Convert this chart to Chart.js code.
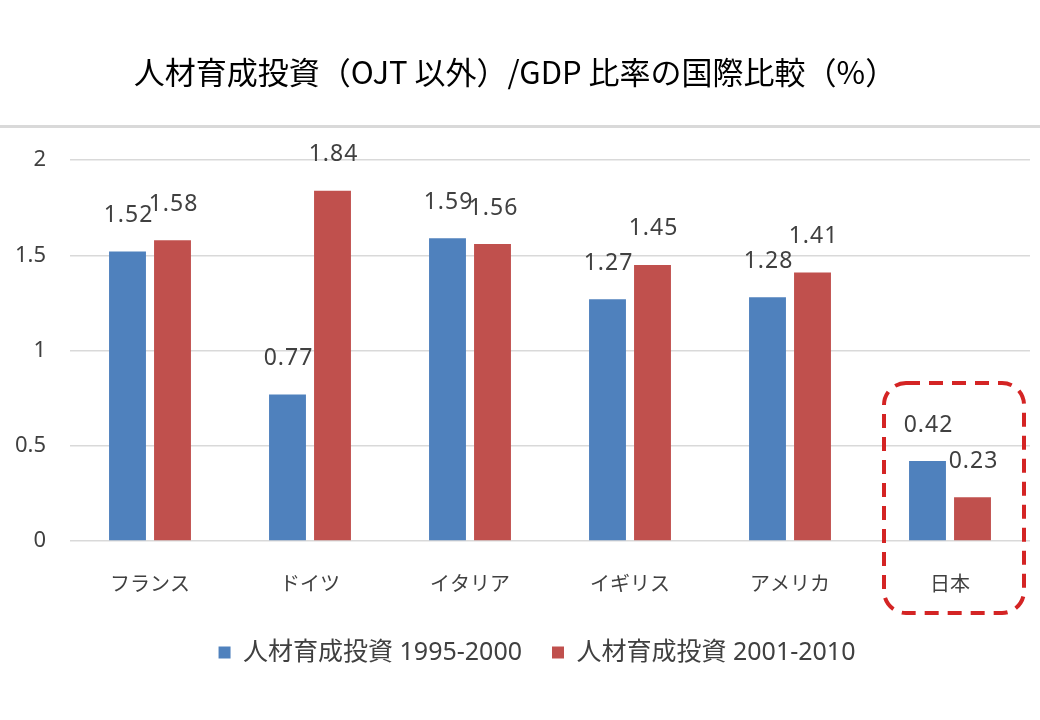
<!DOCTYPE html>
<html><head><meta charset="utf-8">
<script src="https://cdn.jsdelivr.net/npm/chart.js@4.4.1/dist/chart.umd.min.js"></script>
<style>html,body{margin:0;padding:0;background:#fff}#wrap{width:1040px;height:720px}</style>
</head><body><div id="wrap"><canvas id="c" width="1040" height="720"></canvas></div>
<script>
const titleText = '人材育成投資（OJT 以外）/GDP 比率の国際比較（%）';
const categories = ['フランス','ドイツ','イタリア','イギリス','アメリカ','日本'];
const seriesNames = ['人材育成投資 1995-2000','人材育成投資 2001-2010'];
const series1995 = [1.52, 0.77, 1.59, 1.27, 1.28, 0.42];
const series2001 = [1.58, 1.84, 1.56, 1.45, 1.41, 0.23];
const yTicks = [0, 0.5, 1, 1.5, 2];
const highlightCategory = '日本';

const FONT = "'Noto Sans','Noto Sans CJK JP',sans-serif";
const TXT = '#404040';

const valueLabels = {
  id: 'valueLabels',
  afterDatasetsDraw(chart) {
    const ctx = chart.ctx;
    ctx.save();
    ctx.font = "23px " + FONT;
    ctx.letterSpacing = '1px';
    ctx.fillStyle = TXT;
    ctx.textAlign = 'center';
    ctx.textBaseline = 'middle';
    chart.data.datasets.forEach((ds, di) => {
      chart.getDatasetMeta(di).data.forEach((bar, i) => {
        ctx.fillText(ds.data[i].toFixed(2), bar.x + 1, bar.y - 36);
      });
    });
    ctx.restore();
  }
};

const decor = {
  id: 'decor',
  afterLayout(chart) {
    if (chart.legend) { chart.legend.left += 22; chart.legend.right += 22; }
  },
  beforeDraw(chart) {
    const ctx = chart.ctx;
    ctx.save();
    ctx.fillStyle = '#d9d9d9';
    ctx.fillRect(0, 125, chart.width, 3);
    ctx.restore();
  },
  afterDraw(chart) {
    const ctx = chart.ctx;
    const xs = chart.scales.x;
    const idx = categories.indexOf(highlightCategory);
    const cx = xs.getPixelForValue(idx);
    const x0 = cx - 66, x1 = cx + 74, y0 = 383, y1 = 613, r = 22;
    ctx.save();
    ctx.strokeStyle = '#d42424';
    ctx.lineWidth = 4;
    ctx.setLineDash([14, 9]);
    ctx.beginPath();
    ctx.roundRect(x0, y0, x1 - x0, y1 - y0, r);
    ctx.stroke();
    ctx.restore();
  }
};

new Chart(document.getElementById('c'), {
  type: 'bar',
  data: {
    labels: categories,
    datasets: [
      { label: seriesNames[0], data: series1995, backgroundColor: '#4f81bd', categoryPercentage: 0.5625, barPercentage: 0.82 },
      { label: seriesNames[1], data: series2001, backgroundColor: '#c0504d', categoryPercentage: 0.5625, barPercentage: 0.82 }
    ]
  },
  options: {
    responsive: false,
    animation: false,
    layout: { padding: { left: 0, right: 10, top: 0, bottom: 45 } },
    plugins: {
      title: {
        display: true, text: titleText, color: '#000',
        font: { family: "'Noto Sans CJK JP',sans-serif", size: 31, weight: 'normal' },
        padding: { top: 54, bottom: 69 }
      },
      legend: {
        position: 'bottom',
        labels: {
          color: TXT, font: { family: FONT, size: 25 },
          boxWidth: 12, boxHeight: 12, padding: 30
        }
      },
      tooltip: { enabled: false }
    },
    scales: {
      x: {
        afterFit(s) { s.height = 69; },
        grid: { display: false, drawTicks: false },
        border: { display: false },
        ticks: { color: TXT, font: { family: FONT, size: 20 }, padding: 32 }
      },
      y: {
        min: 0, max: 2,
        afterFit(s) { s.width = 70; },
        afterBuildTicks(s) { s.ticks = yTicks.map(v => ({ value: v })); },
        grid: { color: '#d9d9d9', drawTicks: false, lineWidth: 1.5 },
        border: { display: false },
        ticks: { color: TXT, font: { family: FONT, size: 22 }, padding: 24, callback: v => String(v) }
      }
    }
  },
  plugins: [valueLabels, decor]
});
</script></body></html>
